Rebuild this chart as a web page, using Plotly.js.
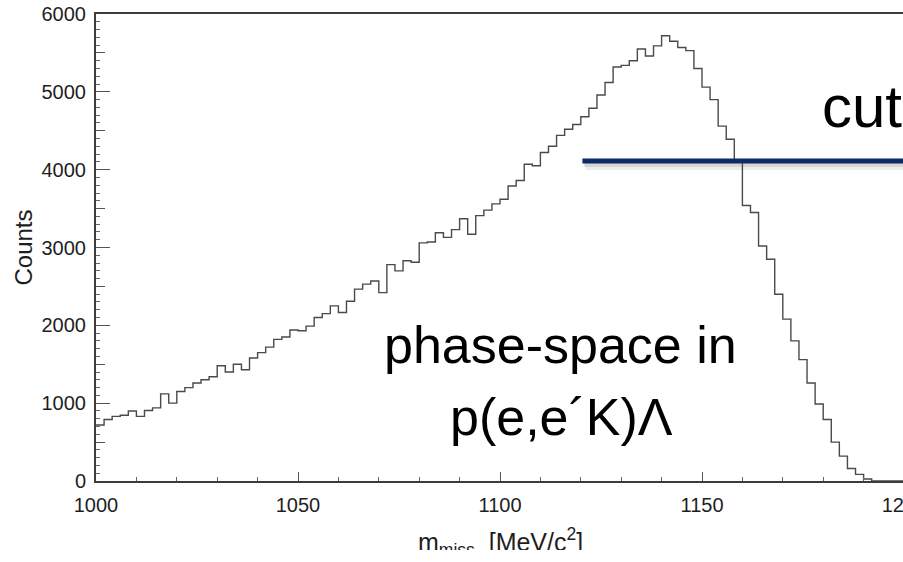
<!DOCTYPE html>
<html>
<head>
<meta charset="utf-8">
<script src="https://cdn.plot.ly/plotly-3.0.1.min.js"></script>
<style>
  html, body { margin: 0; padding: 0; background: #ffffff; overflow: hidden; }
  #chart { width: 910px; height: 550px; }
</style>
</head>
<body>
<div id="chart"></div>
<script>
// Histogram of missing mass, 2 MeV bins starting at 1000 MeV
const binStart = 1000;
const binWidth = 2;
const counts = [
  720, 790, 830, 845, 900, 830, 905, 940, 1120, 1000,
  1150, 1200, 1260, 1300, 1340, 1480, 1400, 1500, 1430, 1580,
  1650, 1720, 1820, 1850, 1940, 1930, 1990, 2100, 2150, 2250,
  2165, 2310, 2465, 2530, 2570, 2420, 2780, 2700, 2830, 2810,
  3060, 3070, 3190, 3130, 3230, 3370, 3170, 3410, 3480, 3560,
  3620, 3790, 3860, 4070, 4050, 4220, 4300, 4440, 4520, 4580,
  4680, 4790, 4960, 5120, 5320, 5340, 5400, 5550, 5460, 5590,
  5720, 5650, 5570, 5530, 5300, 5060, 4900, 4560, 4390, 4100,
  3540, 3450, 3020, 2850, 2400, 2080, 1800, 1560, 1260, 990,
  790, 500, 320, 160, 85, 25, 0, 0, 0, 0
];
const xRange = [1000, 1200];
const yRange = [0, 6000];
const xTickLabels = ["1000", "1050", "1100", "1150", "1200"];
const yTickLabels = ["0", "1000", "2000", "3000", "4000", "5000", "6000"];

// cut line
const cutStart = 1120.4;
const cutEnd = 1200;
const cutLevel = 4110;

// text labels
const xTitle = "m<sub>miss</sub>  [MeV/c<sup>2</sup>]";
const yTitle = "Counts";
const labelCut = "cut";
const labelPhase1 = "phase-space in";
const labelPhase2 = "p(e,e\u00B4K)\u039B";
const labelCutPos = [1179.2, 4816];
const labelPhase1Pos = [1114.9, 1747];
const labelPhase2Pos = [1115.3, 822];

// build step outline
const edges = [];
const stepY = [];
for (let i = 0; i < counts.length; i++) {
  edges.push(binStart + i * binWidth);
  stepY.push(counts[i]);
}
edges.push(binStart + counts.length * binWidth);
stepY.push(counts[counts.length - 1]);

const FONT = "Liberation Sans, Arial, Helvetica, sans-serif";

const traces = [
  {
    type: "scatter", mode: "lines",
    x: edges, y: stepY,
    line: { shape: "hv", color: "#4a4a4a", width: 1.4 },
    hoverinfo: "skip", showlegend: false
  },
  {
    type: "scatter", mode: "lines",
    x: [cutStart, cutEnd], y: [cutLevel, cutLevel],
    line: { color: "#0c2a66", width: 5 },
    cliponaxis: false,
    hoverinfo: "skip", showlegend: false
  },
  {
    type: "scatter", mode: "lines",
    x: [null], y: [null], yaxis: "y2",
    hoverinfo: "skip", showlegend: false
  }
];

const layout = {
  width: 910, height: 550,
  margin: { l: 96, r: 6, t: 14, b: 69, pad: 0 },
  paper_bgcolor: "#ffffff", plot_bgcolor: "#ffffff",
  showlegend: false,
  font: { family: FONT, color: "#222222" },
  xaxis: {
    range: xRange, autorange: false,
    tickmode: "array",
    tickvals: xTickLabels.map(Number), ticktext: xTickLabels,
    ticks: "inside", ticklen: 9, tickwidth: 1, tickcolor: "#555555",
    minor: { dtick: 10, tick0: 1000, ticks: "inside", ticklen: 4, tickwidth: 1, tickcolor: "#666666", showgrid: false },
    showline: true, linecolor: "#3c3c3c", linewidth: 2, mirror: true,
    showgrid: false, zeroline: false,
    tickfont: { family: FONT, size: 20, color: "#1e1e1e" },
    ticklabelstandoff: 5,
    ticklabeloverflow: "allow"
  },
  yaxis: {
    range: yRange, autorange: false,
    tickmode: "array",
    tickvals: yTickLabels.map(Number), ticktext: yTickLabels,
    ticks: "inside", ticklen: 14, tickwidth: 1, tickcolor: "#555555",
    minor: { dtick: 100, tick0: 0, ticks: "inside", ticklen: 4, tickwidth: 1, tickcolor: "#666666", showgrid: false },
    showline: true, linecolor: "#3c3c3c", linewidth: 2, mirror: true,
    showgrid: false, zeroline: false,
    tickfont: { family: FONT, size: 20, color: "#1e1e1e" },
    ticklabelstandoff: 4,
    ticklabeloverflow: "allow",
    title: {
      text: yTitle,
      font: { family: FONT, size: 24, color: "#1e1e1e" },
      standoff: 2
    }
  },
  yaxis2: {
    overlaying: "y", side: "left",
    range: yRange, autorange: false,
    tickmode: "linear", tick0: 500, dtick: 1000,
    ticks: "inside", ticklen: 9, tickwidth: 1, tickcolor: "#555555",
    showticklabels: false, showline: false, showgrid: false, zeroline: false
  },
  shapes: [
    {
      type: "rect", xref: "x", yref: "y", layer: "below",
      x0: cutStart + 0.5, x1: cutEnd,
      ysizemode: "pixel", yanchor: cutLevel, y0: -2, y1: -6,
      fillcolor: "rgba(0,0,0,0.16)", line: { width: 0 }
    },
    {
      type: "rect", xref: "x", yref: "y", layer: "below",
      x0: cutStart + 0.8, x1: cutEnd,
      ysizemode: "pixel", yanchor: cutLevel, y0: -6, y1: -9,
      fillcolor: "rgba(0,0,0,0.07)", line: { width: 0 }
    }
  ],
  annotations: [
    {
      text: xTitle, xref: "paper", yref: "paper",
      x: 0.5, y: -0.1728,
      xanchor: "center", yanchor: "bottom", showarrow: false,
      font: { family: FONT, size: 25, color: "#1e1e1e" }
    },
    {
      text: labelCut, xref: "x", yref: "y",
      x: labelCutPos[0], y: labelCutPos[1],
      xanchor: "left", yanchor: "middle", showarrow: false,
      font: { family: FONT, size: 60, color: "#000000" }
    },
    {
      text: labelPhase1, xref: "x", yref: "y",
      x: labelPhase1Pos[0], y: labelPhase1Pos[1],
      xanchor: "center", yanchor: "middle", showarrow: false,
      font: { family: FONT, size: 52, color: "#000000" }
    },
    {
      text: labelPhase2, xref: "x", yref: "y",
      x: labelPhase2Pos[0], y: labelPhase2Pos[1],
      xanchor: "center", yanchor: "middle", showarrow: false,
      font: { family: FONT, size: 52, color: "#000000" }
    }
  ]
};

Plotly.newPlot("chart", traces, layout, { displayModeBar: false, staticPlot: true });
</script>
</body>
</html>
